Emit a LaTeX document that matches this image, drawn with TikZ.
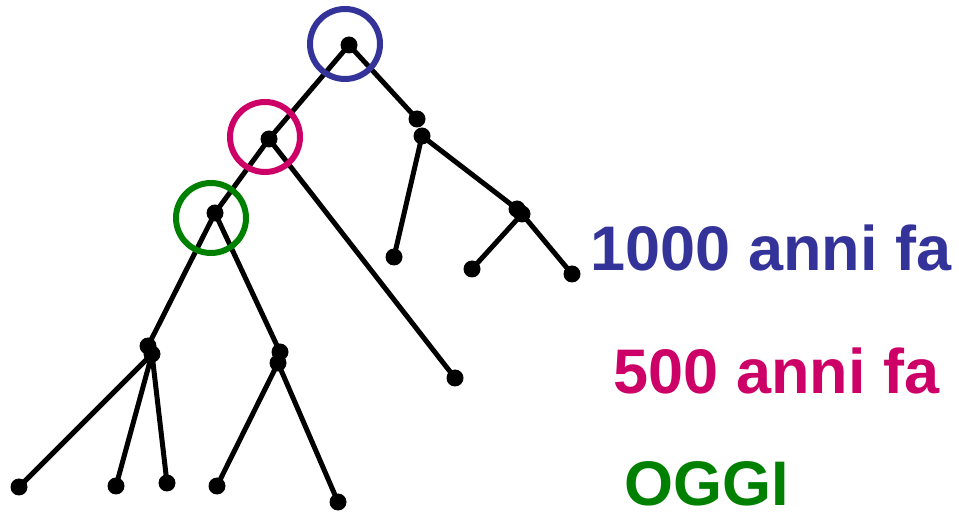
\documentclass[tikz,border=0pt]{standalone}
\usepackage{fontspec}
\setmainfont{Liberation Sans}
\usetikzlibrary{positioning}
\definecolor{anniblue}{RGB}{51,51,153}
\definecolor{annimag}{RGB}{204,0,102}
\definecolor{oggigreen}{RGB}{0,128,0}
\tikzset{dot/.style={circle,fill=black,inner sep=0pt,minimum size=17pt},
  ring/.style={circle,draw=#1,line width=6pt,inner sep=0pt,minimum size=70pt},
  era/.style={anchor=base west,inner sep=0pt,text=#1,font=\fontsize{63}{69}\selectfont\bfseries}}

\begin{document}
\begin{tikzpicture}[x=1pt,y=-1pt,line width=5pt]
\useasboundingbox (0,0) rectangle (959,518);
\node[dot] (R) at (349,45) {};
\node[dot] (Ra) at (417,119) {};
\node[dot] (Rb) at (422,136) {};
\node[dot] (Rc) at (394,257) {};
\node[dot] (S) at (517,209) {};
\node[dot] (Sa) at (522,214) {};
\node[dot] (Sb) at (472,269) {};
\node[dot] (Sc) at (572,274) {};
\node[dot] (M) at (269,139) {};
\node[dot] (Ma) at (455,378) {};
\node[dot] (G) at (215,213) {};
\node[dot] (L) at (148,346) {};
\node[dot] (La) at (152,354) {};
\node[dot] (L1) at (19,487) {};
\node[dot] (L2) at (116,486) {};
\node[dot] (L3) at (167,483) {};
\node[dot] (K) at (280,352) {};
\node[dot] (Ka) at (278,363) {};
\node[dot] (K1) at (217,486) {};
\node[dot] (K2) at (338,502) {};
\draw (R.center) -- (Ra.center);
\draw (Rb.center) -- (Rc.center);
\draw (Rb.center) -- (S.center);
\draw (Sa.center) -- (Sb.center);
\draw (Sa.center) -- (Sc.center);
\draw (R.center) -- (M.center);
\draw (M.center) -- (Ma.center);
\draw (M.center) -- (G.center);
\draw (G.center) -- (L.center);
\draw (La.center) -- (L1.center);
\draw (La.center) -- (L2.center);
\draw (La.center) -- (L3.center);
\draw (G.center) -- (K.center);
\draw (Ka.center) -- (K1.center);
\draw (Ka.center) -- (K2.center);
\node[ring=anniblue] (RR) at (345,44) {};
\node[ring=annimag] (MR) at (265,137) {};
\node[ring=oggigreen] (GR) at (211,218) {};
\node[era=anniblue] (T1) at (588,271) {1000 anni fa};
\node[era=annimag] (T2) at (611,394) {500 anni fa};
\node[era=oggigreen] (T3) at (622,506) {OGGI};
\end{tikzpicture}
\end{document}
